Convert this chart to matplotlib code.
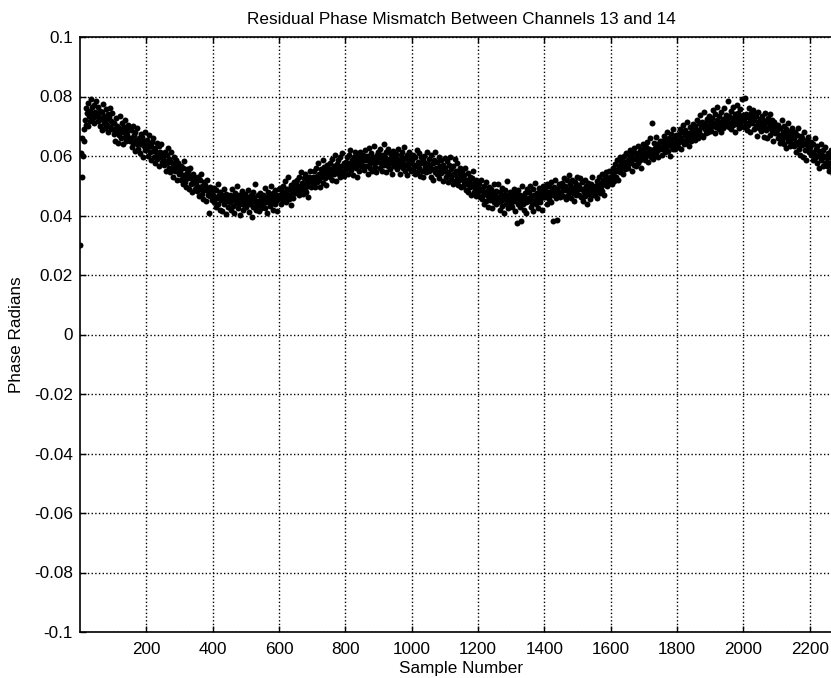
import numpy as np
import matplotlib
matplotlib.use('Agg')
import matplotlib.pyplot as plt

# phase residual, every 2nd sample, in units of 1e-4 rad
phase_e4 = [
    300, 610, 530, 660, 600, 690, 650, 720, 705, 760, 745, 700, 778, 735, 752, 718, 790, 742, 765, 728, 770, 712, 748, 785, 736,
    742, 718, 765, 730, 701, 752, 726, 688, 748, 775, 712, 736, 694, 758, 720, 705, 741, 680, 730, 762, 698, 716, 744, 690, 712,
    675, 712, 690, 652, 728, 684, 700, 645, 695, 670, 735, 662, 688, 710, 640, 680, 698, 665, 722, 650, 685, 672, 705, 655, 690,
    650, 688, 662, 630, 702, 645, 672, 618, 680, 655, 640, 695, 625, 660, 648, 610, 675, 642, 665, 598, 650, 632, 682, 620, 645,
    622, 655, 600, 640, 670, 612, 632, 585, 648, 618, 660, 595, 628, 575, 615, 645, 590, 608, 632, 568, 612, 598, 640, 580, 605,
    598, 570, 615, 582, 550, 605, 575, 628, 560, 590, 545, 580, 612, 555, 572, 530, 595, 565, 548, 585, 520, 562, 578, 540, 555,
    545, 520, 568, 535, 505, 558, 530, 582, 512, 540, 495, 555, 525, 548, 488, 532, 560, 505, 522, 478, 540, 510, 528, 490, 515,
    505, 482, 530, 495, 465, 518, 490, 540, 472, 498, 455, 512, 485, 502, 448, 490, 520, 470, 482, 410, 495, 465, 488, 452, 478,
    470, 445, 492, 462, 430, 485, 458, 505, 440, 468, 420, 478, 452, 470, 415, 460, 488, 438, 455, 405, 472, 448, 465, 430, 458,
    445, 470, 418, 462, 490, 433, 452, 408, 475, 441, 460, 498, 425, 455, 470, 437, 402, 466, 448, 482, 420, 458, 436, 472, 450,
    428, 463, 447, 485, 412, 455, 440, 470, 395, 452, 478, 430, 461, 445, 505, 418, 450, 433, 468, 442, 415, 476, 455, 426, 460,
    470, 438, 455, 492, 425, 461, 447, 410, 480, 452, 466, 433, 498, 444, 458, 420, 475, 462, 437, 485, 450, 415, 468, 455, 490,
    458, 492, 470, 438, 484, 500, 452, 476, 515, 462, 445, 488, 472, 528, 455, 490, 468, 436, 502, 480, 495, 460, 512, 474, 488,
    505, 478, 520, 492, 468, 530, 498, 485, 545, 510, 472, 502, 525, 490, 538, 480, 515, 500, 462, 528, 508, 550, 495, 518, 505,
    530, 505, 548, 520, 495, 560, 532, 512, 575, 540, 518, 496, 555, 528, 545, 585, 510, 538, 562, 525, 548, 502, 570, 540, 558,
    552, 530, 578, 545, 520, 590, 560, 538, 565, 602, 548, 515, 572, 556, 585, 540, 595, 528, 566, 550, 610, 545, 575, 532, 568,
    580, 555, 598, 562, 540, 605, 575, 620, 552, 588, 568, 535, 595, 578, 612, 560, 585, 530, 600, 572, 548, 615, 582, 565, 590,
    570, 605, 588, 552, 620, 585, 565, 600, 540, 592, 628, 575, 560, 610, 582, 548, 598, 575, 635, 562, 590, 545, 605, 580, 612,
    595, 560, 622, 578, 550, 605, 588, 640, 570, 598, 545, 615, 582, 565, 625, 590, 555, 610, 575, 600, 538, 592, 618, 568, 585,
    572, 608, 555, 590, 625, 565, 580, 540, 602, 585, 615, 560, 575, 630, 548, 592, 570, 605, 535, 588, 560, 612, 578, 550, 598,
    585, 552, 605, 570, 538, 598, 565, 620, 545, 580, 560, 610, 532, 575, 595, 550, 585, 528, 600, 562, 578, 545, 615, 558, 572,
    548, 590, 562, 530, 602, 555, 575, 520, 585, 545, 612, 560, 538, 580, 550, 595, 525, 565, 542, 588, 560, 515, 570, 548, 592,
    560, 530, 582, 545, 512, 570, 540, 595, 522, 555, 535, 505, 568, 538, 590, 515, 548, 528, 575, 502, 545, 520, 560, 535, 495,
    522, 548, 498, 535, 512, 560, 485, 520, 505, 542, 478, 515, 530, 495, 470, 525, 502, 548, 480, 510, 492, 465, 518, 488, 505,
    478, 505, 462, 490, 520, 455, 485, 468, 440, 498, 475, 512, 450, 482, 465, 430, 495, 470, 452, 488, 425, 478, 460, 505, 445,
    470, 438, 482, 455, 505, 445, 462, 420, 478, 450, 492, 432, 468, 410, 455, 485, 440, 470, 515, 452, 425, 465, 448, 480, 435,
    462, 430, 475, 448, 490, 415, 458, 472, 375, 440, 485, 455, 428, 468, 380, 450, 500, 438, 462, 420, 475, 445, 410, 488, 458,
    448, 478, 455, 500, 430, 465, 442, 488, 415, 470, 452, 510, 438, 475, 460, 425, 492, 468, 445, 482, 458, 420, 498, 465, 478,
    462, 490, 475, 438, 505, 480, 455, 498, 470, 512, 445, 485, 468, 380, 495, 475, 520, 458, 488, 385, 472, 505, 480, 462, 500,
    478, 510, 492, 465, 525, 485, 500, 455, 518, 490, 470, 535, 482, 505, 460, 495, 520, 475, 488, 450, 512, 495, 468, 530, 485,
    502, 470, 495, 525, 462, 488, 512, 450, 490, 478, 520, 465, 498, 440, 485, 510, 472, 495, 455, 505, 482, 530, 468, 492, 475,
    468, 498, 482, 515, 460, 505, 490, 528, 475, 510, 495, 538, 482, 520, 505, 470, 532, 512, 545, 498, 525, 505, 550, 515, 530,
    518, 545, 505, 560, 532, 515, 572, 548, 530, 585, 555, 520, 568, 598, 545, 575, 560, 590, 540, 600, 572, 555, 610, 580, 565,
    588, 560, 605, 575, 620, 582, 550, 598, 612, 570, 628, 590, 565, 610, 595, 635, 578, 602, 618, 585, 560, 625, 600, 640, 592,
    612, 588, 630, 600, 648, 615, 580, 625, 605, 660, 598, 710, 620, 590, 645, 610, 628, 665, 602, 618, 640, 595, 635, 622, 650,
    628, 605, 650, 622, 668, 638, 612, 655, 630, 680, 618, 645, 662, 600, 648, 675, 635, 658, 622, 690, 642, 660, 625, 672, 648,
    655, 630, 675, 648, 692, 660, 625, 682, 652, 705, 640, 670, 688, 645, 662, 715, 658, 678, 635, 698, 665, 650, 690, 672, 708,
    680, 655, 702, 672, 720, 688, 660, 710, 685, 738, 672, 698, 715, 665, 705, 748, 690, 712, 678, 725, 700, 682, 735, 695, 718,
    710, 685, 728, 700, 755, 712, 678, 740, 698, 722, 765, 705, 690, 735, 715, 680, 748, 708, 725, 695, 760, 718, 702, 738, 712,
    720, 785, 698, 735, 712, 750, 690, 728, 705, 765, 718, 740, 682, 725, 770, 708, 745, 695, 732, 715, 758, 700, 790, 722, 738,
    725, 698, 795, 712, 740, 688, 730, 705, 762, 718, 680, 745, 710, 728, 755, 692, 720, 740, 702, 735, 668, 715, 748, 695, 725,
    710, 685, 735, 698, 722, 665, 705, 745, 688, 715, 660, 728, 695, 710, 740, 672, 700, 685, 722, 652, 695, 715, 678, 705, 690,
    688, 660, 705, 672, 645, 695, 668, 720, 655, 682, 640, 700, 665, 690, 628, 675, 710, 650, 668, 635, 685, 658, 695, 642, 672,
    662, 635, 680, 648, 615, 672, 640, 695, 625, 655, 605, 668, 638, 660, 598, 645, 682, 620, 640, 588, 655, 630, 665, 612, 642,
    630, 602, 648, 615, 585, 640, 608, 660, 592, 622, 575, 635, 600, 618, 560, 610, 642, 588, 605, 565, 620, 595, 630, 578, 600,
    592, 565, 610, 578, 548, 598, 575, 620, 560, 585, 540, 595, 568, 582, 552, 590, 605, 562, 578, 545, 588, 570, 598, 555, 575,
]
sample_step = 2

x_ticks = [200, 400, 600, 800, 1000, 1200, 1400, 1600, 1800, 2000, 2200]
y_ticks = [-0.1, -0.08, -0.06, -0.04, -0.02, 0, 0.02, 0.04, 0.06, 0.08, 0.1]
y_tick_labels = ['-0.1', '-0.08', '-0.06', '-0.04', '-0.02', '0', '0.02', '0.04', '0.06', '0.08', '0.1']

plt.rcParams['font.family'] = ['Liberation Sans', 'DejaVu Sans']
plt.rcParams['font.size'] = 12.3

phase = np.array(phase_e4) * 1e-4
sample = np.arange(len(phase)) * sample_step + 1

fig = plt.figure(figsize=(8.31, 6.78), dpi=100)
ax = fig.add_axes([80 / 831, 46 / 678, 763 / 831, 595 / 678])

ax.plot(sample, phase, 'o', color='black', markersize=4.3, markeredgewidth=0)

ax.set_xlim(0, 2300)
ax.set_ylim(-0.1, 0.1)
ax.set_xticks(x_ticks)
ax.set_xticklabels([str(t) for t in x_ticks])
ax.set_yticks(y_ticks)
ax.set_yticklabels(y_tick_labels)
ax.tick_params(direction='in', length=4, width=1, top=True, right=True, colors='black')
ax.tick_params(axis='x', pad=7)
ax.tick_params(axis='y', pad=5)
ax.grid(True, linestyle=':', color='black', linewidth=1)
for sp in ax.spines.values():
    sp.set_linewidth(1.2)
    sp.set_color('black')

ax.set_title('Residual Phase Mismatch Between Channels 13 and 14', fontsize=12.3, pad=9)
ax.set_xlabel('Sample Number', labelpad=3)
ax.set_ylabel('Phase Radians', labelpad=7)

plt.savefig('out.png', dpi=100)
